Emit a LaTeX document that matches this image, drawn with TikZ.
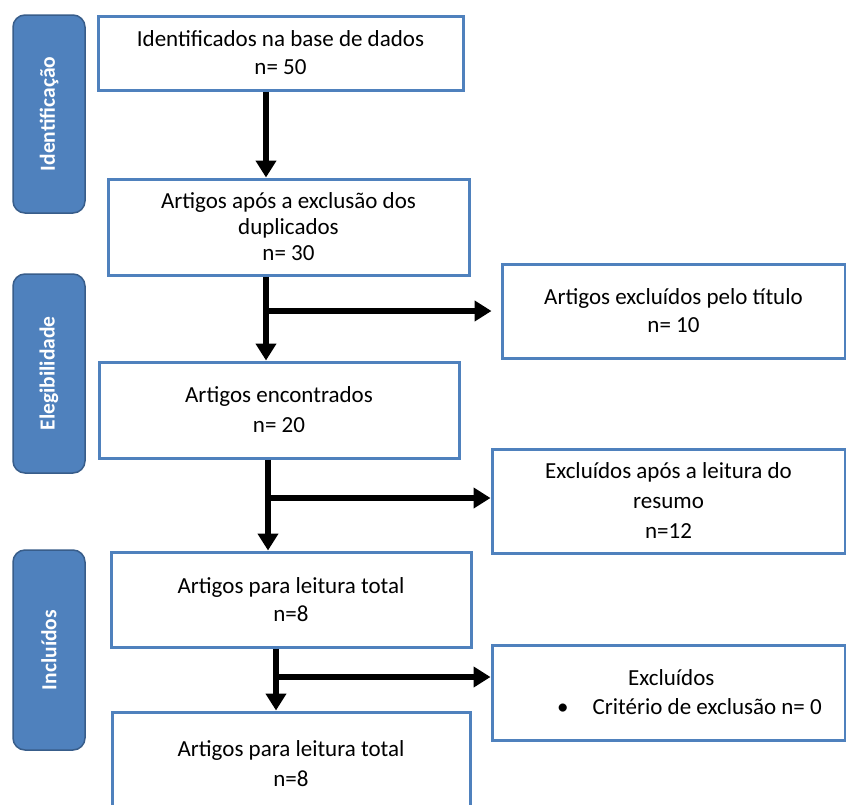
\documentclass[tikz,border=0pt]{standalone}
\usepackage{fontspec}
\setmainfont{Carlito}
\usetikzlibrary{arrows.meta}
\definecolor{boxblue}{HTML}{4F81BD}
\definecolor{tabblue}{HTML}{4F81BD}
\definecolor{tabedge}{HTML}{385D8A}
\begin{document}
\begin{tikzpicture}[x=1pt,y=-1pt,
  flowbox/.style={draw=boxblue, line width=3pt, fill=white, rectangle, align=center,
    inner sep=0pt, font=\fontsize{23}{28}\selectfont},
  tabbox/.style={draw=tabedge, line width=1.5pt, fill=tabblue, rounded corners=12pt,
    text=white, rotate=90, inner sep=0pt, minimum height=72pt,
    font=\fontsize{21.5}{26}\selectfont\bfseries},
  arr/.style={line width=6pt, -{Triangle[length=17pt,width=20pt]}}]
\useasboundingbox[fill=white] (0,0) rectangle (846,804);
% side tabs
\node[tabbox, minimum width=198pt] (t1) at (49,114) {Identificação};
\node[tabbox, minimum width=199pt] (t2) at (49,373.5) {Elegibilidade};
\node[tabbox, minimum width=200pt] (t3) at (49,650) {Incluídos};
% main boxes
\node[flowbox, minimum width=365pt, minimum height=74pt] (b1) at (280.5,53)
  {Identificados na base de dados\\n= 50};
\node[flowbox, minimum width=361pt, minimum height=96pt, font=\fontsize{23}{26}\selectfont] (b2) at (288.5,227)
  {Artigos após a exclusão dos\\duplicados\\n= 30};
\node[flowbox, minimum width=360pt, minimum height=96pt, font=\fontsize{23}{30}\selectfont] (b3) at (279,410)
  {Artigos encontrados\\n= 20};
\node[flowbox, minimum width=360pt, minimum height=95pt] (b4) at (291,599.5)
  {Artigos para leitura total\\n=8};
\node[flowbox, minimum width=358pt, minimum height=103pt, font=\fontsize{23}{30}\selectfont] (b5) at (291,763.5)
  {Artigos para leitura total\\n=8};
% right boxes
\node[flowbox, minimum width=343pt, minimum height=94pt] (r1) at (673.5,311)
  {Artigos excluídos pelo título\\n= 10};
\node[flowbox, minimum width=353pt, minimum height=104pt, font=\fontsize{23}{30}\selectfont] (r2) at (668.5,501)
  {Excluídos após a leitura do\\resumo\\n=12};
\node[flowbox, minimum width=353pt, minimum height=95pt] (r3) at (668.5,692.5) {};
\node[align=left, inner sep=0pt, font=\fontsize{23}{29}\selectfont, anchor=west] (r3t) at (557,692.5)
  {\hspace*{71pt}Excluídos\\\textbullet\hspace{24pt}Critério de exclusão n= 0};
% branch points
\coordinate (v1) at (266,311);
\coordinate (v2) at (268,498);
\coordinate (v3) at (276,677);
% vertical arrows
\draw[arr] (b1.south -| v1) -- (b2.north -| v1);
\draw[arr] (b2.south -| v1) -- (b3.north -| v1);
\draw[arr] (b3.south -| v2) -- (b4.north -| v2);
\draw[arr] (b4.south -| v3) -- (b5.north -| v3);
% horizontal arrows
\draw[arr, shorten >=9pt] (v1) -- (r1.west);
\draw[arr] (v2) -- (v2 -| r2.west);
\draw[arr] (v3) -- (v3 -| r3.west);
\end{tikzpicture}
\end{document}
